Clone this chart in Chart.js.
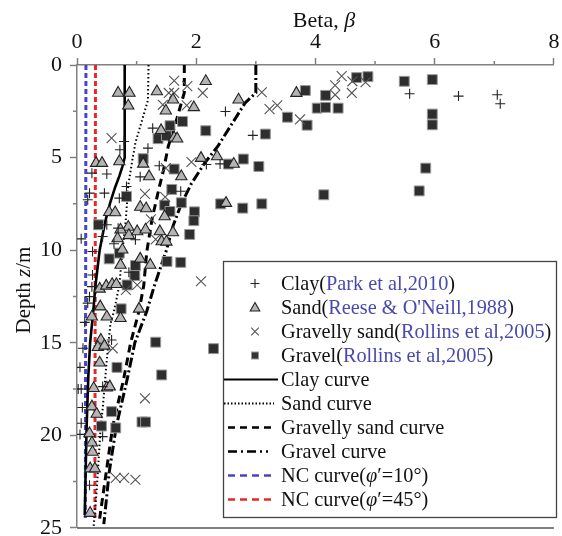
<!DOCTYPE html>
<html>
<head>
<meta charset="utf-8">
<script src="https://cdn.jsdelivr.net/npm/chart.js@4.4.1/dist/chart.umd.min.js"></script>
<style>
  html, body { margin: 0; padding: 0; background: #fff; }
</style>
</head>
<body>
<canvas id="beta" width="562" height="536"></canvas>
<script>
// points, [beta, depth in m]
const clayPts = [[5.58,1.55],[6.40,1.68],[7.05,1.61],[7.10,2.09],[2.49,2.51],[2.95,3.80],[1.27,3.41],[0.79,4.13],[0.72,4.58],[1.19,4.49],[2.17,5.37],[2.40,5.34],[1.38,5.44],[0.25,5.84],[0.50,5.89],[1.06,6.04],[0.83,6.56],[1.74,6.82],[0.21,6.92],[0.18,7.28],[0.46,6.92],[0.71,7.19],[0.50,8.63],[0.43,9.26],[0.69,8.81],[0.98,9.44],[0.07,9.39],[0.26,10.07],[0.62,9.65],[0.87,11.19],[0.26,11.34],[0.25,11.97],[0.21,12.51],[0.18,12.86],[0.13,13.9],[0.58,14.85],[0.10,15.3],[0.05,16.33],[0.07,17.5],[0.02,17.5],[0.43,17.37],[0.09,18.5],[0.07,19.35],[0.05,19.95],[0.43,20.07],[0.21,22.7]];
const sandPts = [[0.69,1.51],[0.88,1.51],[0.86,2.2],[1.34,1.43],[1.61,1.88],[1.49,2.47],[2.16,0.88],[1.96,2.29],[2.71,1.88],[3.68,1.52],[1.41,3.53],[1.63,3.93],[1.68,3.98],[0.32,5.3],[0.42,5.3],[0.71,5.21],[1.11,5.34],[2.08,5.03],[2.35,4.94],[2.63,5.35],[1.21,6.02],[1.75,6.02],[2.50,7.46],[1.06,7.67],[1.16,7.75],[0.54,7.95],[0.64,7.97],[1.47,8.18],[0.86,8.75],[0.73,8.9],[0.68,9.37],[0.87,9.2],[1.01,8.99],[1.15,8.9],[1.39,8.99],[1.42,9.53],[1.50,9.55],[1.61,9.05],[0.76,9.98],[0.73,10.8],[1.06,10.47],[1.23,10.8],[0.38,12.09],[0.49,11.93],[0.59,11.84],[0.66,11.84],[0.39,13.05],[1.04,13.17],[0.25,13.6],[0.50,13.6],[0.73,13.68],[0.40,14.85],[0.35,15.24],[0.46,15.17],[0.38,16.08],[0.28,17.46],[0.50,17.43],[0.55,17.37],[0.25,18.45],[0.33,18.85],[0.21,19.9],[0.25,20.4],[0.26,20.9],[0.22,21.8],[0.30,21.8],[0.22,24.2]];
const gravSandPts = [[1.63,0.85],[1.85,1.14],[2.11,1.51],[1.54,1.51],[1.63,1.51],[1.44,2.15],[1.84,2.18],[3.10,1.47],[3.23,2.38],[3.36,2.18],[3.74,2.94],[4.44,0.60],[4.62,0.88],[4.84,0.93],[4.33,1.10],[4.33,1.61],[4.61,1.51],[0.58,3.95],[1.49,5.57],[1.92,5.24],[1.14,6.96],[1.48,7.13],[1.24,8.33],[1.32,9.42],[2.08,11.68],[0.82,12.15],[1.01,11.88],[0.60,15.3],[1.14,18.0],[0.65,22.3],[0.79,22.3],[0.98,22.4]];
const gravelPts = [[3.83,1.38],[4.17,1.64],[4.69,0.68],[4.88,0.63],[5.49,0.88],[5.96,0.79],[3.53,2.82],[3.86,3.25],[4.03,2.33],[4.17,2.29],[4.38,2.33],[5.96,2.65],[5.96,3.23],[3.16,3.73],[3.05,5.48],[5.85,5.57],[4.14,7.01],[5.74,6.80],[3.10,7.50],[1.77,3.05],[2.16,3.55],[1.56,3.28],[1.36,3.98],[1.50,3.82],[1.11,5.06],[1.63,5.62],[1.59,6.72],[0.83,7.10],[1.75,7.44],[1.47,7.57],[1.56,7.91],[1.97,7.93],[1.96,8.41],[0.36,8.63],[1.89,9.15],[2.54,5.35],[2.79,5.08],[2.41,7.50],[2.78,7.73],[1.74,10.66],[1.51,10.61],[0.71,10.16],[0.54,10.47],[0.98,10.83],[0.97,11.37],[0.84,11.88],[0.74,13.17],[1.32,14.97],[2.29,15.32],[0.67,16.33],[1.42,16.74],[0.58,18.72],[1.09,19.28],[1.15,19.28],[0.41,19.50],[0.65,19.60]];

// fitted curves, [beta, depth]
const clayCurve = [[0.80,0],[0.80,5.0],[0.76,5.5],[0.71,6.0],[0.64,6.6],[0.56,7.4],[0.47,8.5],[0.38,10.0],[0.31,11.9],[0.27,13.4],[0.22,15.0],[0.19,16.8],[0.16,19.7],[0.13,24.3]];
const sandCurve = [[1.20,0],[1.19,1.9],[1.09,3.0],[0.98,4.2],[0.93,5.1],[0.86,6.5],[0.82,8.3],[0.76,10.1],[0.71,11.9],[0.62,13.3],[0.56,14.0],[0.50,15.9],[0.43,18.6],[0.40,19.4],[0.33,23.0],[0.28,24.9]];
const gravSandCurve = [[1.80,0],[1.80,1.5],[1.75,2.05],[1.64,3.3],[1.53,4.4],[1.45,5.7],[1.38,6.6],[1.26,8.3],[1.17,10.1],[1.12,11.9],[1.04,13.3],[0.90,15.0],[0.78,17.0],[0.60,19.5],[0.49,22.0],[0.38,24.5]];
const gravelCurve = [[3.0,0],[3.0,1.5],[2.82,2.05],[2.36,4.4],[2.14,5.3],[1.92,6.4],[1.75,7.5],[1.61,8.7],[1.50,10.0],[1.30,11.9],[1.17,13.3],[0.97,15.0],[0.84,17.0],[0.66,19.5],[0.54,22.0],[0.45,24.8]];
const nc10Curve = [[0.15,0],[0.14,24.5]];
const nc45Curve = [[0.31,0],[0.30,24.6]];

const xTicks = [0, 2, 4, 6, 8];
const xMinor = [1, 3, 5, 7];
const yTicks = [0, 5, 10, 15, 20, 25];
const yMinor = [2.5, 7.5, 12.5, 17.5, 22.5];

const SERIF = "'Liberation Serif', 'Times New Roman', serif";
const CITE = '#4a4aae';
const AXIS = '#808080';

const toXY = arr => arr.map(p => ({ x: p[0], y: p[1] }));

function curve(label, pts, color, width, dash) {
  return { label, data: toXY(pts), showLine: true, pointRadius: 0, borderColor: color,
           borderWidth: width, borderDash: dash, fill: false, tension: 0 };
}

// legend rows: marker/line kind + text parts [text, cite?, italic?]
const legendRows = [
  { kind: 'cross', parts: [['Clay('], ['Park et al,2010', 1], [')']] },
  { kind: 'tri', parts: [['Sand('], ["Reese & O'Neill,1988", 1], [')']] },
  { kind: 'x', parts: [['Gravelly sand('], ['Rollins et al,2005', 1], [')']] },
  { kind: 'sq', parts: [['Gravel('], ['Rollins et al,2005', 1], [')']] },
  { kind: 'line', color: '#000', width: 2.2, dash: [], x0: 224, x1: 278, parts: [['Clay curve']] },
  { kind: 'line', color: '#000', width: 1.8, dash: [1.5, 2], x0: 224, x1: 274, parts: [['Sand curve']] },
  { kind: 'line', color: '#000', width: 2.6, dash: [7, 5], x0: 228, x1: 272, parts: [['Gravelly sand curve']] },
  { kind: 'line', color: '#000', width: 2.6, dash: [9, 4, 2, 4], x0: 228, x1: 268, parts: [['Gravel curve']] },
  { kind: 'line', color: '#4646c4', width: 2.6, dash: [7, 5], x0: 228, x1: 272, parts: [['NC curve('], ['φ', 0, 1], ['′=10°)']] },
  { kind: 'line', color: '#e8272b', width: 2.6, dash: [7, 5], x0: 228, x1: 272, parts: [['NC curve('], ['φ', 0, 1], ['′=45°)']] }
];

function drawRuns(ctx, x, y, parts, size, align) {
  const fonts = parts.map(p => (p[2] ? 'italic ' : '') + size + 'px ' + SERIF);
  let total = 0;
  const widths = parts.map((p, i) => { ctx.font = fonts[i]; const w = ctx.measureText(p[0]).width; total += w; return w; });
  if (align === 'center') x -= total / 2;
  ctx.textAlign = 'left';
  parts.forEach((p, i) => {
    ctx.font = fonts[i];
    ctx.fillStyle = p[1] ? CITE : '#111';
    ctx.fillText(p[0], x, y);
    x += widths[i];
  });
}

function marker(ctx, kind, cx, cy) {
  ctx.save();
  ctx.setLineDash([]);
  if (kind === 'cross') {
    ctx.strokeStyle = '#222'; ctx.lineWidth = 1.1;
    ctx.beginPath(); ctx.moveTo(cx - 4.5, cy); ctx.lineTo(cx + 4.5, cy);
    ctx.moveTo(cx, cy - 4.5); ctx.lineTo(cx, cy + 4.5); ctx.stroke();
  } else if (kind === 'tri') {
    ctx.fillStyle = '#b4b4b4'; ctx.strokeStyle = '#222'; ctx.lineWidth = 1.1;
    ctx.beginPath(); ctx.moveTo(cx, cy - 5); ctx.lineTo(cx + 4.8, cy + 3.5); ctx.lineTo(cx - 4.8, cy + 3.5); ctx.closePath();
    ctx.fill(); ctx.stroke();
  } else if (kind === 'x') {
    ctx.strokeStyle = '#555'; ctx.lineWidth = 1.1;
    ctx.beginPath(); ctx.moveTo(cx - 3.8, cy - 3.8); ctx.lineTo(cx + 3.8, cy + 3.8);
    ctx.moveTo(cx + 3.8, cy - 3.8); ctx.lineTo(cx - 3.8, cy + 3.8); ctx.stroke();
  } else if (kind === 'sq') {
    ctx.fillStyle = '#333'; ctx.strokeStyle = '#999'; ctx.lineWidth = 1;
    ctx.fillRect(cx - 3.5, cy - 3.5, 7, 7); ctx.strokeRect(cx - 3.5, cy - 3.5, 7, 7);
  }
  ctx.restore();
}

const decor = {
  id: 'decor',
  afterDraw(chart) {
    const { ctx, chartArea: a, scales: { x, y } } = chart;
    ctx.save();
    // minor ticks
    ctx.strokeStyle = AXIS; ctx.lineWidth = 1.5;
    ctx.beginPath();
    xMinor.forEach(v => { const px = x.getPixelForValue(v); ctx.moveTo(px, a.top); ctx.lineTo(px, a.top - 4); });
    yMinor.forEach(v => { const py = y.getPixelForValue(v); ctx.moveTo(a.left, py); ctx.lineTo(a.left - 4, py); });
    ctx.stroke();
    // bottom frame
    ctx.strokeStyle = '#555'; ctx.lineWidth = 1.5;
    ctx.beginPath(); ctx.moveTo(a.left, a.bottom); ctx.lineTo(a.right, a.bottom); ctx.stroke();

    // axis titles
    ctx.textBaseline = 'alphabetic';
    drawRuns(ctx, 324, 27, [['Beta, '], ['β', 0, 1]], 22, 'center');
    ctx.save();
    ctx.translate(30, 290); ctx.rotate(-Math.PI / 2);
    drawRuns(ctx, 0, 0, [['Depth '], ['z', 0, 1], ['/m']], 21, 'center');
    ctx.restore();

    // legend box
    const bx = 223.5, by = 261.5, bw = 333, bh = 256;
    ctx.fillStyle = '#fff'; ctx.fillRect(bx, by, bw, bh);
    ctx.strokeStyle = '#444'; ctx.lineWidth = 1.3; ctx.strokeRect(bx, by, bw, bh);
    ctx.textBaseline = 'middle';
    legendRows.forEach((r, i) => {
      const cy = 283.5 + i * 24.0;
      if (r.kind === 'line') {
        ctx.save();
        ctx.strokeStyle = r.color; ctx.lineWidth = r.width; ctx.setLineDash(r.dash);
        ctx.beginPath(); ctx.moveTo(r.x0, cy); ctx.lineTo(r.x1, cy); ctx.stroke();
        ctx.restore();
      } else {
        marker(ctx, r.kind, 255, cy);
      }
      drawRuns(ctx, 281, cy + 1, r.parts, 20.3);
    });
    ctx.restore();
  }
};

new Chart(document.getElementById('beta'), {
  type: 'scatter',
  data: {
    datasets: [
      { label: 'Clay', data: toXY(clayPts), pointStyle: 'cross', pointRadius: 5, borderColor: '#222', backgroundColor: '#222', pointBorderWidth: 1.1 },
      { label: 'Sand', data: toXY(sandPts), pointStyle: 'triangle', pointRadius: 6.5, borderColor: '#222', backgroundColor: '#b4b4b4', pointBorderWidth: 1.1 },
      { label: 'Gravelly sand', data: toXY(gravSandPts), pointStyle: 'crossRot', pointRadius: 7, borderColor: '#555', backgroundColor: '#555', pointBorderWidth: 1.1 },
      { label: 'Gravel', data: toXY(gravelPts), pointStyle: 'rect', pointRadius: 7, borderColor: '#999', backgroundColor: '#2e2e2e', pointBorderWidth: 1 },
      curve('Clay curve', clayCurve, '#000', 2.6, []),
      curve('Sand curve', sandCurve, '#000', 2, [1.5, 2.5]),
      curve('Gravelly sand curve', gravSandCurve, '#000', 3, [8, 5]),
      curve('Gravel curve', gravelCurve, '#000', 3, [10, 3, 2, 3]),
      curve('NC 10', nc10Curve, '#4646c4', 3, [5, 3]),
      curve('NC 45', nc45Curve, '#e8272b', 3, [5, 3])
    ]
  },
  options: {
    responsive: false,
    animation: false,
    layout: { padding: { top: 0, left: 0, right: 1, bottom: 8 } },
    plugins: { legend: { display: false }, tooltip: { enabled: false } },
    scales: {
      x: {
        type: 'linear', position: 'top', min: 0, max: 8,
        afterBuildTicks: s => { s.ticks = xTicks.map(v => ({ value: v })); },
        afterFit: s => { s.height = 65; s.paddingLeft = 0; s.paddingRight = 0; },
        grid: { drawOnChartArea: false, tickLength: 7, tickColor: AXIS, tickWidth: 1.5 },
        border: { color: AXIS, width: 1.5 },
        ticks: { font: { family: SERIF, size: 22 }, color: '#111', padding: 3, maxRotation: 0, autoSkip: false }
      },
      y: {
        type: 'linear', reverse: true, min: 0, max: 25,
        afterBuildTicks: s => { s.ticks = yTicks.map(v => ({ value: v })); },
        afterFit: s => { s.width = 77; s.paddingTop = 0; s.paddingBottom = 0; },
        grid: { drawOnChartArea: false, tickLength: 7, tickColor: AXIS, tickWidth: 1.5 },
        border: { color: AXIS, width: 1.5 },
        ticks: { font: { family: SERIF, size: 22 }, color: '#111', padding: 8, autoSkip: false }
      }
    }
  },
  plugins: [decor]
});
</script>
</body>
</html>
